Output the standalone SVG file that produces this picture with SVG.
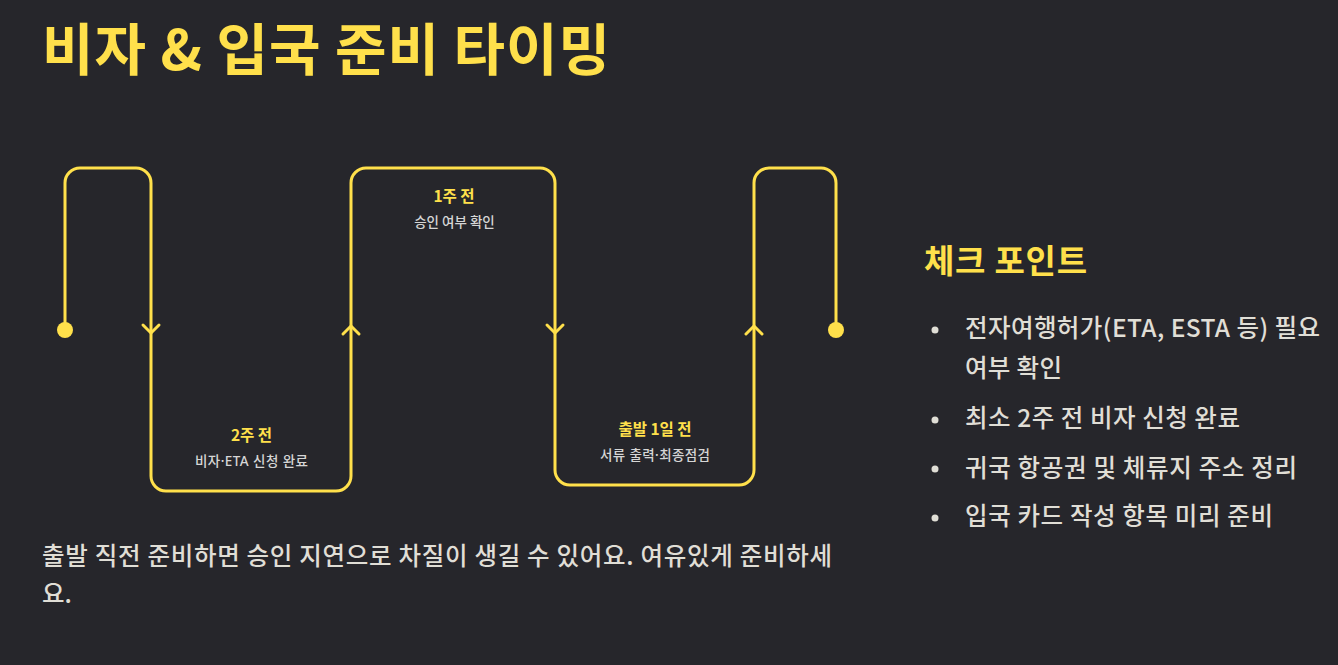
<svg xmlns="http://www.w3.org/2000/svg" width="1338" height="665" viewBox="0 0 1338 665">
<style>
.bg{fill:#26262b}
.t{font-family:"Noto Sans CJK KR","Noto Sans",sans-serif}
.s{font-family:"Noto Sans","Noto Sans CJK KR",sans-serif}
.title{font-size:56px;font-weight:700;fill:#ffe04b}
.h2{font-size:33px;font-weight:700;fill:#ffe04b}
.stg{font-size:15.5px;font-weight:700;fill:#ffe04b;text-anchor:middle}
.sub{font-size:13.5px;font-weight:500;fill:#d6d6d6;text-anchor:middle}
.li{font-size:24.5px;font-weight:500;fill:#e0ded6}
.note{font-size:24.5px;font-weight:500;fill:#e0ded6}
.line{fill:none;stroke:#ffe04b;stroke-width:3;stroke-linecap:round;stroke-linejoin:round}
.dot{fill:#ffe04b}
.bul{fill:#e0ded6}
</style>
<rect class="bg" x="0" y="0" width="1338" height="665"/>
<g id="title"><text class="t title" x="42" y="70" textLength="568" lengthAdjust="spacing">비자 &amp; 입국 준비 타이밍</text></g>
<g id="connectors">
<path class="line" d="M65,330 V183 A15,15 0 0 1 80,168 H136 A15,15 0 0 1 151,183 V476 A15,15 0 0 0 166,491 H336 A15,15 0 0 0 351,476 V183 A15,15 0 0 1 366,168 H540 A15,15 0 0 1 555,183 V470 A15,15 0 0 0 570,485 H739 A15,15 0 0 0 754,470 V183 A15,15 0 0 1 769,168 H821 A15,15 0 0 1 836,183 V330"/>
<polyline class="line" points="143,325 151,333 159,325"/>
<polyline class="line" points="343,334 351,326 359,334"/>
<polyline class="line" points="547,325 555,333 563,325"/>
<polyline class="line" points="746,334 754,326 762,334"/>
</g>
<g id="start"><circle class="dot" cx="65" cy="330" r="8"/></g>
<g id="end"><circle class="dot" cx="836" cy="330" r="8"/></g>
<g id="stage-2w"><text class="t stg" x="251.5" y="441">2주 전</text><text class="s sub" x="251.5" y="466" textLength="113" lengthAdjust="spacing">비자·ETA 신청 완료</text></g>
<g id="stage-1w"><text class="t stg" x="454" y="202">1주 전</text><text class="t sub" x="454.5" y="227">승인 여부 확인</text></g>
<g id="stage-1d"><text class="t stg" x="655" y="435">출발 1일 전</text><text class="s sub" x="655" y="460" textLength="110" lengthAdjust="spacing">서류 출력·최종점검</text></g>
<g id="checkpoints">
<text class="t h2" x="924" y="273" textLength="163" lengthAdjust="spacing">체크 포인트</text>
<circle class="bul" cx="935" cy="330" r="3.5"/>
<text class="t li" x="965" y="337" textLength="355" lengthAdjust="spacing">전자여행허가(ETA, ESTA 등) 필요</text>
<text class="t li" x="965" y="377" textLength="97" lengthAdjust="spacing">여부 확인</text>
<circle class="bul" cx="935" cy="420" r="3.5"/>
<text class="t li" x="965" y="427" textLength="275" lengthAdjust="spacing">최소 2주 전 비자 신청 완료</text>
<circle class="bul" cx="935" cy="469" r="3.5"/>
<text class="t li" x="965" y="477" textLength="332" lengthAdjust="spacing">귀국 항공권 및 체류지 주소 정리</text>
<circle class="bul" cx="935" cy="518" r="3.5"/>
<text class="t li" x="965" y="525" textLength="308" lengthAdjust="spacing">입국 카드 작성 항목 미리 준비</text>
</g>
<g id="note">
<text class="t note" x="42" y="565" textLength="790" lengthAdjust="spacing">출발 직전 준비하면 승인 지연으로 차질이 생길 수 있어요. 여유있게 준비하세</text>
<text class="t note" x="42" y="603">요.</text>
</g>
</svg>
